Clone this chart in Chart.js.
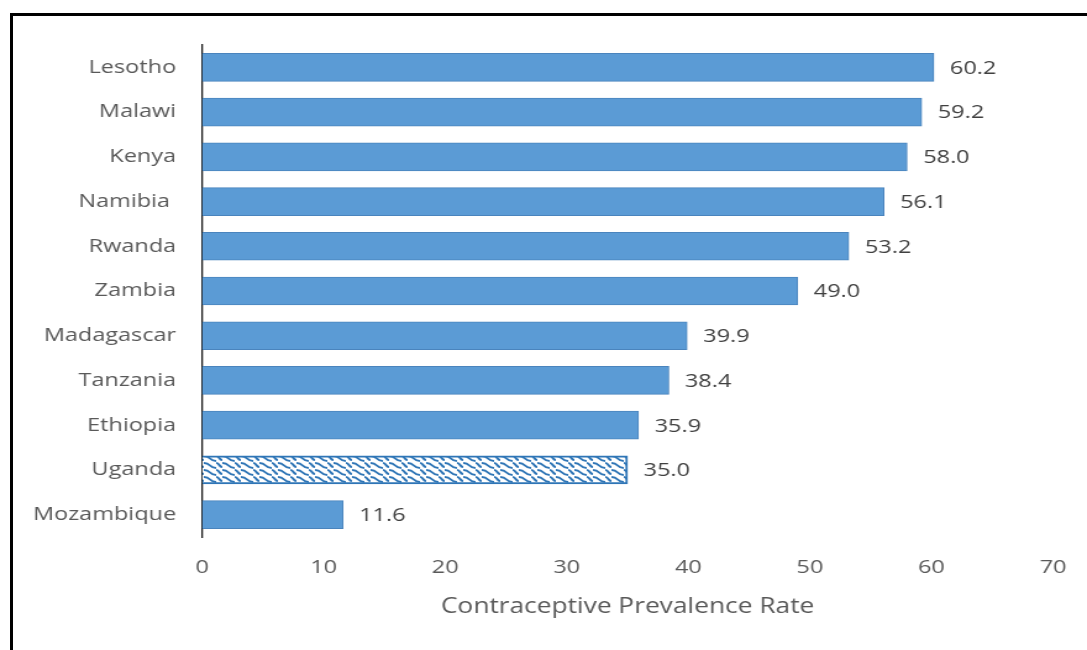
<!DOCTYPE html>
<html>
<head>
<meta charset="utf-8">
<script src="https://cdn.jsdelivr.net/npm/chart.js@4.4.1/dist/chart.umd.min.js"></script>
<style>
  html, body { margin: 0; padding: 0; background: #fff; overflow: hidden; }
  body { width: 1087px; height: 650px; position: relative; }
  #frame {
    position: absolute; left: 10px; top: 13px; width: 1200px; height: 800px;
    border-left: 3px solid #000; border-top: 3px solid #000; box-sizing: border-box;
  }
  /* the chart is drawn narrow and widened horizontally */
  #wrap {
    position: absolute; left: 0; top: 0; width: 880px; height: 650px;
    transform: scaleX(1.2352); transform-origin: 0 0;
  }
</style>
</head>
<body>
<div id="frame"></div>
<div id="wrap"><canvas id="c" width="880" height="650"></canvas></div>
<script>
const countries = ['Lesotho', 'Malawi', 'Kenya', 'Namibia ', 'Rwanda', 'Zambia',
                   'Madagascar', 'Tanzania', 'Ethiopia', 'Uganda', 'Mozambique'];
const prevalence = [60.2, 59.2, 58.0, 56.1, 53.2, 49.0, 39.9, 38.4, 35.9, 35.0, 11.6];
const xTicks = [0, 10, 20, 30, 40, 50, 60, 70];
const highlighted = 'Uganda';

const FONT = '"Open Sans", sans-serif';
const BLUE = '#5B9BD5';
const BLUE_EDGE = '#4A84BD';
const HATCH = '#2E75B6';

// woven hatch tile for the highlighted bar
function weavePattern() {
  const t = document.createElement('canvas');
  t.width = 15; t.height = 14;
  const g = t.getContext('2d');
  g.fillStyle = '#fff';
  g.fillRect(0, 0, 15, 14);
  g.strokeStyle = HATCH;
  g.lineWidth = 2;
  for (const dy of [0, 7]) {
    g.beginPath();
    g.moveTo(0, dy + 1);
    g.bezierCurveTo(6, dy + 1, 4, dy + 6, 10, dy + 6);
    g.stroke();
    g.beginPath();
    g.moveTo(10, dy + 1);
    g.bezierCurveTo(13, dy + 1, 12, dy + 5, 15, dy + 5);
    g.stroke();
  }
  return g.createPattern(t, 'repeat');
}
const pattern = weavePattern();

const fills = countries.map(c => c === highlighted ? pattern : BLUE);
const edges = countries.map(c => c === highlighted ? HATCH : BLUE_EDGE);
const edgeWidths = countries.map(c => c === highlighted ? 2 : 1);

// value printed just past the end of each bar
const valueLabels = {
  id: 'valueLabels',
  afterDatasetsDraw(chart) {
    const ctx = chart.ctx;
    const meta = chart.getDatasetMeta(0);
    ctx.save();
    ctx.font = '19px ' + FONT;
    ctx.fillStyle = '#404040';
    ctx.textAlign = 'left';
    ctx.textBaseline = 'middle';
    meta.data.forEach((bar, i) => {
      ctx.fillText(prevalence[i].toFixed(1), bar.x + 13, bar.y + 1);
    });
    ctx.restore();
  }
};

new Chart(document.getElementById('c'), {
  type: 'bar',
  data: {
    labels: countries,
    datasets: [{
      data: prevalence,
      backgroundColor: fills,
      borderColor: edges,
      borderWidth: edgeWidths,
      barThickness: 28
    }]
  },
  options: {
    indexAxis: 'y',
    responsive: false,
    animation: false,
    devicePixelRatio: 1,
    layout: { padding: { top: 45, right: 27.5, bottom: 0, left: 0 } },
    plugins: { legend: { display: false }, tooltip: { enabled: false } },
    scales: {
      x: {
        min: 0, max: 70,
        afterBuildTicks(scale) { scale.ticks = xTicks.map(v => ({ value: v })); },
        afterFit(scale) {
          scale.height = 113;
          scale.paddingLeft = 0;
          scale.paddingRight = 0;
        },
        grid: { display: false, drawTicks: false },
        border: { display: false },
        ticks: { color: '#595959', font: { family: FONT, size: 19 }, padding: 19 },
        title: {
          display: true,
          text: 'Contraceptive Prevalence Rate',
          color: '#595959',
          font: { family: FONT, size: 21.3 },
          padding: { top: 0, bottom: 30 }
        }
      },
      y: {
        afterFit(scale) { scale.width = 163.6; },
        grid: { display: false, drawTicks: false },
        border: { display: true, color: '#1a1a1a', width: 1.3 },
        ticks: { color: '#595959', font: { family: FONT, size: 19 }, padding: 21 }
      }
    }
  },
  plugins: [valueLabels]
});
</script>
</body>
</html>
